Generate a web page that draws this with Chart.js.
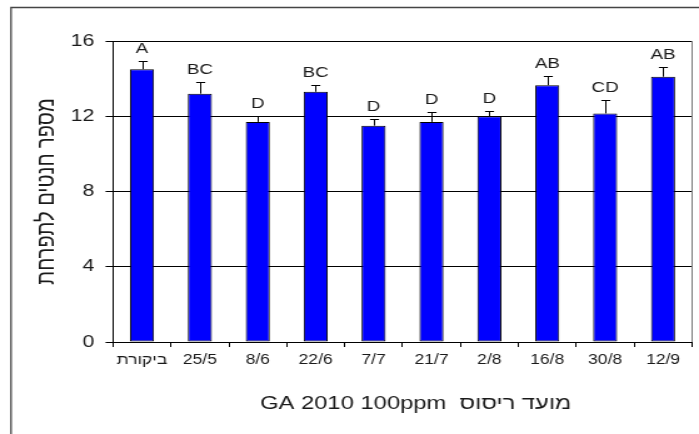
<!DOCTYPE html>
<html>
<head>
<meta charset="utf-8">
<script src="https://cdn.jsdelivr.net/npm/chart.js@4.4.1/dist/chart.umd.min.js"></script>
<style>
    html, body { margin: 0; padding: 0; background: #fff; }
    /* the chart is laid out narrower and widened, so the lettering comes out broad */
    #wrap {
        position: absolute;
        left: 0;
        top: 0;
        width: 559px;
        height: 434px;
        transform: scaleX(1.25045);
        transform-origin: 0 0;
    }
</style>
</head>
<body>
<div id="wrap"><canvas id="fruitset-chart"></canvas></div>
<script>
// Fruit set per inflorescence by GA spray date (2010, 100ppm)
const sprayDates = ['ביקורת', '25/5', '8/6', '22/6', '7/7', '21/7', '2/8', '16/8', '30/8', '12/9'];
const meanFruitSet = [14.5, 13.2, 11.7, 13.3, 11.5, 11.7, 12.0, 13.65, 12.15, 14.1];
const stdErr = [0.43, 0.6, 0.3, 0.37, 0.37, 0.53, 0.27, 0.48, 0.74, 0.54];
const groups = ['A', 'BC', 'D', 'BC', 'D', 'D', 'D', 'AB', 'CD', 'AB'];
const yTicks = [0, 4, 8, 12, 16];

const FONT = "'Liberation Sans', Arial, sans-serif";
const TEXT = '#1a1a1a';

// outer frame + right edge of the plot area
const framePlugin = {
    id: 'frame',
    beforeDraw(chart) {
        const { ctx, width, height } = chart;
        ctx.save();
        ctx.fillStyle = '#fff';
        ctx.fillRect(0, 0, width, height);
        ctx.strokeStyle = '#444';
        ctx.lineWidth = 1.3;
        ctx.beginPath();
        ctx.moveTo(8.8, height);
        ctx.lineTo(8.8, 7.5);
        ctx.lineTo(width, 7.5);
        ctx.stroke();
        ctx.restore();
    },
    beforeDatasetsDraw(chart) {
        const { ctx, chartArea } = chart;
        ctx.save();
        ctx.strokeStyle = '#808080';
        ctx.lineWidth = 1;
        const x = Math.round(chartArea.right) + 0.5;
        ctx.beginPath();
        ctx.moveTo(x, chartArea.top);
        ctx.lineTo(x, chartArea.bottom);
        ctx.stroke();
        ctx.restore();
    },
};

// upward error bars with the significance letters on top
const errorBarPlugin = {
    id: 'errorBars',
    afterDatasetsDraw(chart) {
        const { ctx } = chart;
        const yScale = chart.scales.y;
        const meta = chart.getDatasetMeta(0);
        ctx.save();
        ctx.strokeStyle = '#000';
        ctx.lineWidth = 1;
        ctx.fillStyle = TEXT;
        ctx.font = '15px ' + FONT;
        ctx.textAlign = 'center';
        ctx.textBaseline = 'bottom';
        meta.data.forEach((bar, i) => {
            const top = Math.round(yScale.getPixelForValue(meanFruitSet[i] + stdErr[i])) + 0.5;
            const x = Math.round(bar.x) + 0.5;
            ctx.beginPath();
            ctx.moveTo(x, bar.y);
            ctx.lineTo(x, top);
            ctx.moveTo(x - 3.6, top);
            ctx.lineTo(x + 3.6, top);
            ctx.stroke();
            ctx.fillText(groups[i], bar.x, top - 5);
        });
        ctx.restore();
    },
};

new Chart(document.getElementById('fruitset-chart'), {
    type: 'bar',
    data: {
        labels: sprayDates,
        datasets: [{
            data: meanFruitSet,
            backgroundColor: '#0000FF',
            borderColor: '#000',
            borderWidth: 1,
            borderSkipped: false,
            barPercentage: 0.415,
            categoryPercentage: 1,
        }],
    },
    options: {
        responsive: true,
        maintainAspectRatio: false,
        animation: false,
        events: [],
        layout: {
            padding: { top: 41, left: 20, right: 5.6, bottom: 0 },
        },
        plugins: {
            legend: { display: false },
            tooltip: { enabled: false },
        },
        scales: {
            x: {
                grid: {
                    drawOnChartArea: false,
                    color: '#000',
                    tickLength: 5,
                    offset: true,
                },
                border: { color: '#000', width: 1 },
                ticks: {
                    color: TEXT,
                    font: { size: 14, family: FONT },
                    padding: 5,
                    maxRotation: 0,
                    autoSkip: false,
                },
                title: {
                    display: true,
                    // leading spaces push the title a little right of the plot centre
                    text: '    GA 2010 100ppm  מועד ריסוס',
                    color: TEXT,
                    font: { size: 19, family: FONT },
                    padding: { top: 0, bottom: 19 },
                },
                afterFit(scale) { scale.height = 92; },
            },
            y: {
                min: 0,
                max: 16,
                afterBuildTicks(scale) {
                    scale.ticks = yTicks.map(v => ({ value: v }));
                },
                grid: {
                    color: '#000',
                    lineWidth: 1,
                    tickLength: 6,
                },
                border: { color: '#000', width: 1 },
                ticks: {
                    color: TEXT,
                    font: { size: 17, family: FONT },
                    padding: 9,
                },
                title: {
                    display: true,
                    text: 'מספר חנטים לתפרחת',
                    color: TEXT,
                    font: { size: 20, family: FONT },
                    padding: { top: 5.4, bottom: 0 },
                },
                afterFit(scale) { scale.width = 70.4; },
            },
        },
    },
    plugins: [framePlugin, errorBarPlugin],
});
</script>
</body>
</html>
